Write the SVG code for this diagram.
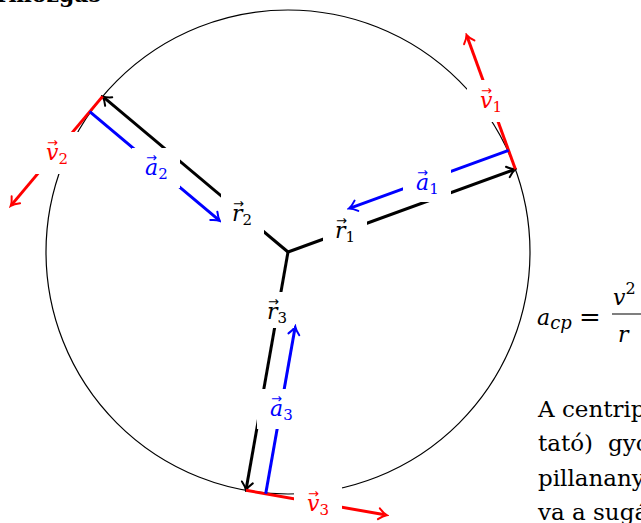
<svg xmlns="http://www.w3.org/2000/svg" width="641" height="523" viewBox="0 0 641 523">
<defs>
<style>
.circ{fill:none;stroke:#000;stroke-width:1.2}
.vec{fill:none;stroke-width:3;stroke-linecap:butt}
.r{stroke:#000}
.a{stroke:#0000ff}
.v{stroke:#ff0000}
.bg{fill:#fff}
.m{font-family:"DejaVu Serif",serif;font-style:italic;font-size:22px}
.sub{font-style:normal;font-size:15px}
.acc{font-family:"DejaVu Sans",sans-serif;font-style:normal;font-size:13px}
.body{font-family:"DejaVu Serif",serif;font-size:23px;fill:#000}
.kr{fill:#000}.bl{fill:#0000ff}.rd{fill:#ff0000}
</style>
<marker id="ahK" markerUnits="userSpaceOnUse" viewBox="-8 -8 12 16" markerWidth="12" markerHeight="16" refX="0" refY="0" orient="auto">
<path d="M-6,-5.5 Q-1.5,-1.2 2,0 Q-1.5,1.2 -6,5.5" fill="none" stroke="#000" stroke-width="2" stroke-linecap="round"/>
</marker>
<marker id="ahB" markerUnits="userSpaceOnUse" viewBox="-8 -8 12 16" markerWidth="12" markerHeight="16" refX="0" refY="0" orient="auto">
<path d="M-6,-5.5 Q-1.5,-1.2 2,0 Q-1.5,1.2 -6,5.5" fill="none" stroke="#0000ff" stroke-width="2" stroke-linecap="round"/>
</marker>
<marker id="ahR" markerUnits="userSpaceOnUse" viewBox="-8 -8 12 16" markerWidth="12" markerHeight="16" refX="0" refY="0" orient="auto">
<path d="M-6,-5.5 Q-1.5,-1.2 2,0 Q-1.5,1.2 -6,5.5" fill="none" stroke="#ff0000" stroke-width="2" stroke-linecap="round"/>
</marker>
</defs>

<text x="101" y="2" text-anchor="end" font-family="DejaVu Serif,serif" font-weight="bold" font-size="22">Körmozgás</text>

<g id="circle"><circle class="circ" cx="288" cy="252" r="242"/></g>

<g id="connectors">
<line class="vec r" x1="288" y1="252" x2="513.5" y2="169.9" marker-end="url(#ahK)"/>
<line class="vec r" x1="288" y1="252" x2="104.1" y2="97.7" marker-end="url(#ahK)"/>
<line class="vec r" x1="288" y1="252" x2="246.3" y2="488.3" marker-end="url(#ahK)"/>
<line class="vec v" x1="515.4" y1="169.2" x2="467.2" y2="36.7" marker-end="url(#ahR)"/>
<line class="vec v" x1="102.6" y1="96.4" x2="12.0" y2="204.4" marker-end="url(#ahR)"/>
<line class="vec v" x1="246.0" y1="490.3" x2="384.8" y2="514.8" marker-end="url(#ahR)"/>
<line class="vec a" x1="508.6" y1="150.4" x2="350.8" y2="207.8" marker-end="url(#ahB)"/>
<line class="vec a" x1="89.7" y1="111.7" x2="218.4" y2="219.7" marker-end="url(#ahB)"/>
<line class="vec a" x1="265.7" y1="493.8" x2="294.9" y2="328.4" marker-end="url(#ahB)"/>
</g>

<g id="label-r1"><rect class="bg" x="323" y="212" width="44" height="39"/><text class="m kr" x="335" y="238">r<tspan class="sub" dy="4">1</tspan><tspan class="acc" x="336" y="225">→</tspan></text></g>
<g id="label-r2"><rect class="bg" x="221" y="194" width="43" height="40"/><text class="m kr" x="232" y="221">r<tspan class="sub" dy="4">2</tspan><tspan class="acc" x="233" y="208">→</tspan></text></g>
<g id="label-r3"><rect class="bg" x="258" y="292" width="36" height="36"/><text class="m kr" x="267" y="319">r<tspan class="sub" dy="4">3</tspan><tspan class="acc" x="268" y="306">→</tspan></text></g>
<g id="label-a1"><rect class="bg" x="403" y="164" width="48" height="38"/><text class="m bl" x="416" y="190">a<tspan class="sub" dy="4">1</tspan><tspan class="acc" x="417" y="177">→</tspan></text></g>
<g id="label-a2"><rect class="bg" x="132" y="148" width="48" height="40"/><text class="m bl" x="145" y="175">a<tspan class="sub" dy="4">2</tspan><tspan class="acc" x="146" y="162">→</tspan></text></g>
<g id="label-a3"><rect class="bg" x="257" y="389" width="48" height="40"/><text class="m bl" x="270" y="416">a<tspan class="sub" dy="4">3</tspan><tspan class="acc" x="271" y="403">→</tspan></text></g>
<g id="label-v1"><rect class="bg" x="467" y="80" width="48" height="42"/><text class="m rd" x="480" y="108">v<tspan class="sub" dy="4">1</tspan><tspan class="acc" x="481" y="95">→</tspan></text></g>
<g id="label-v2"><rect class="bg" x="33" y="132" width="48" height="42"/><text class="m rd" x="46" y="160">v<tspan class="sub" dy="4">2</tspan><tspan class="acc" x="47" y="147">→</tspan></text></g>
<g id="label-v3"><rect class="bg" x="294" y="483" width="48" height="42"/><text class="m rd" x="307" y="511">v<tspan class="sub" dy="4">3</tspan><tspan class="acc" x="308" y="498">→</tspan></text></g>

<g id="formula">
<text class="m" x="537" y="325" font-size="26">a<tspan style="font-style:italic;font-size:18px" dy="4">cp</tspan></text>
<text x="590" y="326" text-anchor="middle" font-family="DejaVu Serif,serif" font-size="26">=</text>
<line x1="612" y1="314" x2="650" y2="314" stroke="#000" stroke-width="1.2"/>
<text class="m" x="613" y="305" font-size="26">v<tspan style="font-style:normal;font-size:16px" dy="-11">2</tspan></text>
<text class="m" x="618" y="342" font-size="26">r</text>
</g>

<g id="paragraph">
<text class="body" x="538" y="417">A centrip</text>
<text class="body" x="538" y="451">tató)<tspan x="608">gyo</tspan></text>
<text class="body" x="538" y="486">pillanany</text>
<text class="body" x="538" y="520">va a sugá</text>
</g>
</svg>
